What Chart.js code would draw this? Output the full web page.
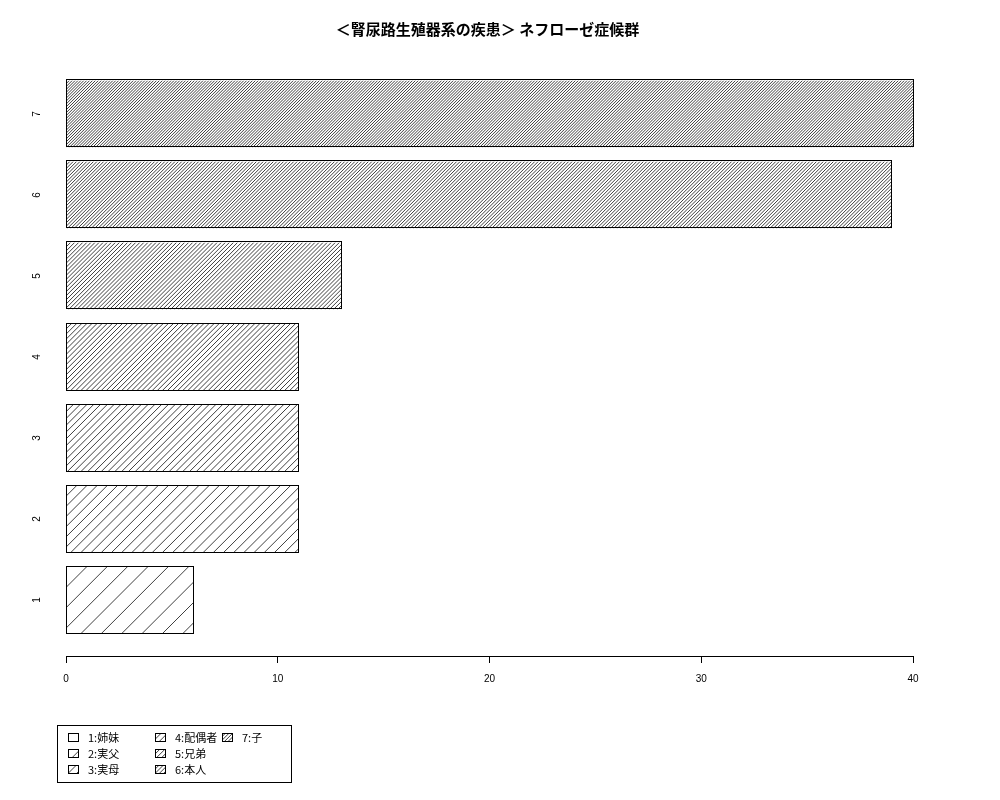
<!DOCTYPE html>
<html>
<head>
<meta charset="utf-8">
<script src="https://cdn.jsdelivr.net/npm/chart.js@4"></script>
<style>
html,body{margin:0;padding:0;background:#fff;}
#wrap{width:1000px;height:800px;}
</style>
</head>
<body>
<div id="wrap"><canvas id="c" width="1000" height="800"></canvas></div>
<script>
// ---- data ----
const categories = ['1','2','3','4','5','6','7'];
const values = [6, 11, 11, 11, 13, 39, 40];
const legendLabels = ['1:姉妹','2:実父','3:実母','4:配偶者','5:兄弟','6:本人','7:子'];
const xTicks = [0, 10, 20, 30, 40];
const titleText = '＜腎尿路生殖器系の疾患＞ ネフローゼ症候群';

// ---- style ----
const densities = [5, 10, 15, 20, 25, 30, 35]; // hatch lines per inch
const FONT = '"Liberation Sans", Arial, Helvetica, sans-serif';

// bar positions like R barplot (width 1, space 0.2)
const barPos = categories.map((c, i) => 0.7 + 1.2 * i);
const dataPts = values.map((v, i) => ({x: v, y: barPos[i]}));

function hatchRect(ctx, x0, y0, x1, y1, density) {
  const sp = (72 / density) * Math.SQRT2; // horizontal spacing in px
  ctx.save();
  ctx.beginPath();
  ctx.rect(x0, y0, x1 - x0, y1 - y0);
  ctx.clip();
  ctx.strokeStyle = '#2a2a2a';
  ctx.lineWidth = 0.9;
  ctx.beginPath();
  const h = y1 - y0;
  for (let x = x0 - h - sp; x <= x1 + sp; x += sp) {
    ctx.moveTo(x, y1);
    ctx.lineTo(x + h, y0);
  }
  ctx.stroke();
  ctx.restore();
}

const rPlugin = {
  id: 'rstyle',
  afterDatasetsDraw(chart) {
    const ctx = chart.ctx;
    const meta = chart.getDatasetMeta(0);
    meta.data.forEach((bar, i) => {
      const p = bar.getProps(['x', 'y', 'base', 'height'], true);
      const x0 = Math.min(p.base, p.x), x1 = Math.max(p.base, p.x);
      const y0 = p.y - p.height / 2, y1 = p.y + p.height / 2;
      hatchRect(ctx, x0, y0, x1, y1, densities[i]);
      ctx.save();
      ctx.strokeStyle = '#000';
      ctx.lineWidth = 1;
      ctx.strokeRect(Math.round(x0) - 0.5, Math.round(y0) - 0.5, Math.round(x1 - x0), Math.round(y1 - y0));
      ctx.restore();
    });
  },
  afterDraw(chart) {
    const ctx = chart.ctx;
    const area = chart.chartArea;
    const ys = chart.scales.y;
    // y category labels (rotated)
    ctx.save();
    ctx.fillStyle = '#000';
    ctx.font = '10px ' + FONT;
    ctx.textAlign = 'center';
    ctx.textBaseline = 'middle';
    categories.forEach((c, i) => {
      const py = ys.getPixelForValue(barPos[i]);
      ctx.save();
      ctx.translate(37, py);
      ctx.rotate(-Math.PI / 2);
      ctx.fillText(c, 0, 0);
      ctx.restore();
    });
    // title
    ctx.font = 'bold 15px "Noto Sans CJK JP", ' + FONT;
    ctx.textBaseline = 'middle';
    ctx.fillText(titleText, (area.left + area.right) / 2 - 2, 29);
    // legend
    const bx = 57, by = 725, bw = 234, bh = 57;
    ctx.strokeStyle = '#000';
    ctx.lineWidth = 1;
    ctx.strokeRect(bx + 0.5, by + 0.5, bw, bh);
    ctx.font = '11px "Noto Sans CJK JP", ' + FONT;
    ctx.textAlign = 'left';
    const colX = [68, 155, 222];
    const rowY = [737, 753, 769];
    legendLabels.forEach((lab, i) => {
      const col = Math.floor(i / 3), row = i % 3;
      const sx = colX[col], sy = rowY[row];
      const s0x = sx, s0y = sy - 4, s1x = sx + 10, s1y = sy + 4;
      ctx.fillStyle = '#fff';
      ctx.fillRect(s0x, s0y, 10, 8);
      hatchRect(ctx, s0x, s0y, s1x, s1y, densities[i] * 0.8);
      ctx.strokeStyle = '#000';
      ctx.strokeRect(s0x + 0.5, s0y + 0.5, 10, 8);
      ctx.fillStyle = '#000';
      ctx.fillText(lab, sx + 20, sy + 1);
    });
    ctx.restore();
  }
};

new Chart(document.getElementById('c'), {
  type: 'bar',
  data: {
    datasets: [{
      data: dataPts,
      backgroundColor: '#fff',
      borderWidth: 0,
      barThickness: 67
    }]
  },
  plugins: [rPlugin],
  options: {
    indexAxis: 'y',
    responsive: false,
    animation: false,
    devicePixelRatio: 1,
    layout: {padding: {left: 66, right: 87, top: 58, bottom: 0}},
    plugins: {legend: {display: false}, tooltip: {enabled: false}, title: {display: false}},
    scales: {
      x: {
        type: 'linear',
        min: 0, max: 40,
        offset: false,
        afterBuildTicks(s) { s.ticks = xTicks.map(v => ({value: v})); },
        afterFit(s) { s.height = 144; },
        border: {display: true, color: '#000', width: 1},
        grid: {display: true, drawOnChartArea: false, drawTicks: true, tickLength: 7, color: '#000', tickColor: '#000'},
        ticks: {color: '#000', font: {family: FONT, size: 10}, padding: 10, maxRotation: 0}
      },
      y: {
        type: 'linear',
        display: false,
        offset: false,
        min: -0.128, max: 8.728
      }
    }
  }
});
</script>
</body>
</html>
